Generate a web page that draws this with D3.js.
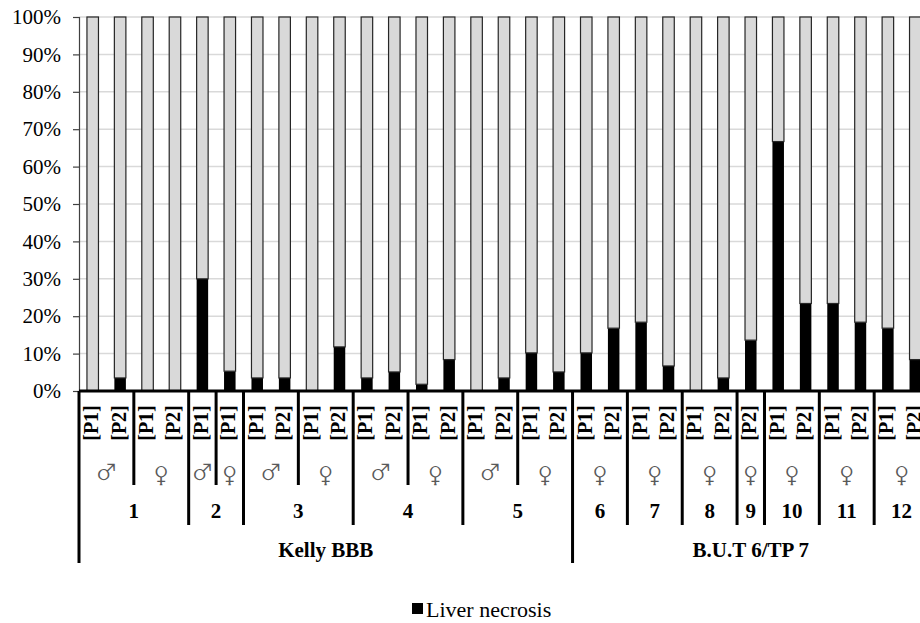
<!DOCTYPE html>
<html>
<head>
<meta charset="utf-8">
<script src="https://cdn.jsdelivr.net/npm/d3@7/dist/d3.min.js"></script>
<style>
  html, body { margin: 0; padding: 0; background: #fff; }
  svg { display: block; }
</style>
</head>
<body>
<svg id="chart" width="920" height="623"></svg>
<script>
// ---------- DATA ----------
const farmLabels = [
  "Kelly BBB","Kelly BBB","Kelly BBB","Kelly BBB","Kelly BBB","Kelly BBB",
  "Kelly BBB","Kelly BBB","Kelly BBB","Kelly BBB","Kelly BBB","Kelly BBB",
  "Kelly BBB","Kelly BBB","Kelly BBB","Kelly BBB","Kelly BBB","Kelly BBB",
  "B.U.T 6/TP 7","B.U.T 6/TP 7","B.U.T 6/TP 7","B.U.T 6/TP 7","B.U.T 6/TP 7",
  "B.U.T 6/TP 7","B.U.T 6/TP 7","B.U.T 6/TP 7","B.U.T 6/TP 7","B.U.T 6/TP 7",
  "B.U.T 6/TP 7","B.U.T 6/TP 7","B.U.T 6/TP 7"
];
const groupLabels = [
  "1","1","1","1","2","2","3","3","3","3","4","4","4","4","5","5","5","5",
  "6","6","7","7","8","8","9","10","10","11","11","12","12"
];
const sexLabels = [
  "♂","♂","♀","♀","♂","♀","♂","♂","♀","♀","♂","♂","♀","♀","♂","♂","♀","♀",
  "♀","♀","♀","♀","♀","♀","♀","♀","♀","♀","♀","♀","♀"
];
const periodLabels = [
  "[P1]","[P2]","[P1]","[P2]","[P1]","[P1]","[P1]","[P2]","[P1]","[P2]",
  "[P1]","[P2]","[P1]","[P2]","[P1]","[P2]","[P1]","[P2]",
  "[P1]","[P2]","[P1]","[P2]","[P1]","[P2]","[P2]","[P1]","[P2]",
  "[P1]","[P2]","[P1]","[P2]"
];
// Liver necrosis share (%)
const liverNecrosis = [
  0, 3.5, 0, 0, 30, 5.3, 3.5, 3.5, 0, 11.8, 3.5, 5.1, 1.8, 8.4, 0, 3.5, 10.2, 5.1,
  10.2, 16.8, 18.4, 6.7, 0, 3.5, 13.6, 66.7, 23.4, 23.4, 18.4, 16.8, 8.4
];
const yTicks = [0, 0.1, 0.2, 0.3, 0.4, 0.5, 0.6, 0.7, 0.8, 0.9, 1.0];
const legendLabel = "Liver necrosis";

// ---------- LAYOUT ----------
const svg = d3.select("#chart");
const FF = '"Liberation Serif", "Times New Roman", serif';
const FF_SYM = 'FreeSerif, "Liberation Serif", serif';
const FONT = 21;
const mLeft = 79, plotRight = 929, mTop = 17, mBottom = 391;
const idx = d3.range(liverNecrosis.length);

const x = d3.scaleBand().domain(idx).range([mLeft, plotRight]).paddingInner(0.58).paddingOuter(0.29);
const xStep = x.step();
const y = d3.scaleLinear().domain([0, 1]).range([mBottom, mTop]);

// rows (stack 100%)
const rows = idx.map(i => ({ i, necrosis: liverNecrosis[i] / 100, other: 1 - liverNecrosis[i] / 100 }));
const stacked = d3.stack().keys(["necrosis", "other"])(rows);

// gridlines
svg.append("g").selectAll("line").data(yTicks.slice(1)).join("line")
  .attr("x1", mLeft).attr("x2", 920)
  .attr("y1", d => y(d)).attr("y2", d => y(d))
  .attr("stroke", "#d9d9d9").attr("stroke-width", 1.5);

// y axis
const yAxis = svg.append("g").attr("transform", `translate(${mLeft},0)`)
  .call(d3.axisLeft(y).tickValues(yTicks).tickFormat(d3.format(".0%")).tickSize(6).tickPadding(12));
yAxis.attr("font-family", null);
yAxis.select(".domain").attr("stroke", "#404040").attr("stroke-width", 1.2);
yAxis.selectAll(".tick line").attr("stroke", "#404040").attr("stroke-width", 1.2);
yAxis.selectAll("text").style("font-family", FF).style("font-size", FONT + "px").attr("fill", "#000");

// bars
const colors = { necrosis: "#000000", other: "#d9d9d9" };
svg.append("g").selectAll("g").data(stacked).join("g")
  .attr("fill", d => colors[d.key])
  .attr("stroke", d => d.key === "other" ? "#262626" : "none")
  .attr("stroke-width", 1.2)
  .selectAll("rect").data(d => d.filter(s => s[1] - s[0] > 0)).join("rect")
  .attr("x", d => x(d.data.i))
  .attr("width", x.bandwidth())
  .attr("y", d => y(d[1]))
  .attr("height", d => y(d[0]) - y(d[1]));

// ---------- multi-level category axis ----------
const ax = svg.append("g");
ax.append("line").attr("x1", mLeft).attr("x2", plotRight).attr("y1", mBottom).attr("y2", mBottom)
  .attr("stroke", "#000").attr("stroke-width", 3);

// period labels (rotated)
ax.selectAll("text.per").data(idx).join("text").attr("class", "per")
  .attr("transform", i => `translate(${x(i) + x.bandwidth() / 2 - 1.5},423) rotate(-90)`)
  .attr("text-anchor", "middle").attr("dominant-baseline", "central")
  .style("font-family", FF).style("font-size", "20px").style("font-weight", "bold")
  .text(i => periodLabels[i]);

// helper: consecutive spans
function spans(keyFn) {
  const out = [];
  idx.forEach(i => {
    const k = keyFn(i);
    if (out.length && out[out.length - 1].key === k) out[out.length - 1].end = i;
    else out.push({ key: k, start: i, end: i });
  });
  return out;
}
const bx = i => mLeft + i * xStep;

const sexSpans = spans(i => farmLabels[i] + "|" + groupLabels[i] + "|" + sexLabels[i]);
const grpSpans = spans(i => farmLabels[i] + "|" + groupLabels[i]);
const farmSpans = spans(i => farmLabels[i]);

ax.selectAll("text.sex").data(sexSpans).join("text").attr("class", "sex")
  .attr("x", d => (bx(d.start) + bx(d.end + 1)) / 2).attr("y", 472)
  .attr("text-anchor", "middle").attr("dominant-baseline", "central")
  .style("font-family", FF_SYM).style("font-size", "26px").attr("fill", "#595959")
  .text(d => sexLabels[d.start]);

ax.selectAll("text.grp").data(grpSpans).join("text").attr("class", "grp")
  .attr("x", d => (bx(d.start) + bx(d.end + 1)) / 2).attr("y", 518)
  .attr("text-anchor", "middle")
  .style("font-family", FF).style("font-size", FONT + "px").style("font-weight", "bold")
  .text(d => groupLabels[d.start]);

ax.selectAll("text.farm").data(farmSpans).join("text").attr("class", "farm")
  .attr("x", d => (bx(d.start) + bx(d.end + 1)) / 2).attr("y", 557)
  .attr("text-anchor", "middle")
  .style("font-family", FF).style("font-size", FONT + "px").style("font-weight", "bold")
  .text(d => farmLabels[d.start]);

// separators: boundary i (left edge of bar i) extends to deepest level that changes
const seps = [];
idx.forEach(i => {
  let yEnd = null;
  if (i === 0 || farmLabels[i] !== farmLabels[i - 1]) yEnd = 563;
  else if (groupLabels[i] !== groupLabels[i - 1]) yEnd = 525;
  else if (sexLabels[i] !== sexLabels[i - 1]) yEnd = 485;
  if (yEnd !== null) seps.push({ xv: bx(i), yEnd });
});
seps.push({ xv: bx(idx.length), yEnd: 563 });
ax.selectAll("line.sep").data(seps).join("line").attr("class", "sep")
  .attr("x1", d => d.xv).attr("x2", d => d.xv)
  .attr("y1", mBottom).attr("y2", d => d.yEnd)
  .attr("stroke", "#000").attr("stroke-width", 3);

// legend
const lg = svg.append("g").attr("transform", "translate(412,603)");
lg.append("rect").attr("width", 11).attr("height", 11).attr("fill", "#000");
lg.append("text").attr("x", 14).attr("y", 14)
  .style("font-family", FF).style("font-size", "22px").text(legendLabel);
</script>
</body>
</html>
